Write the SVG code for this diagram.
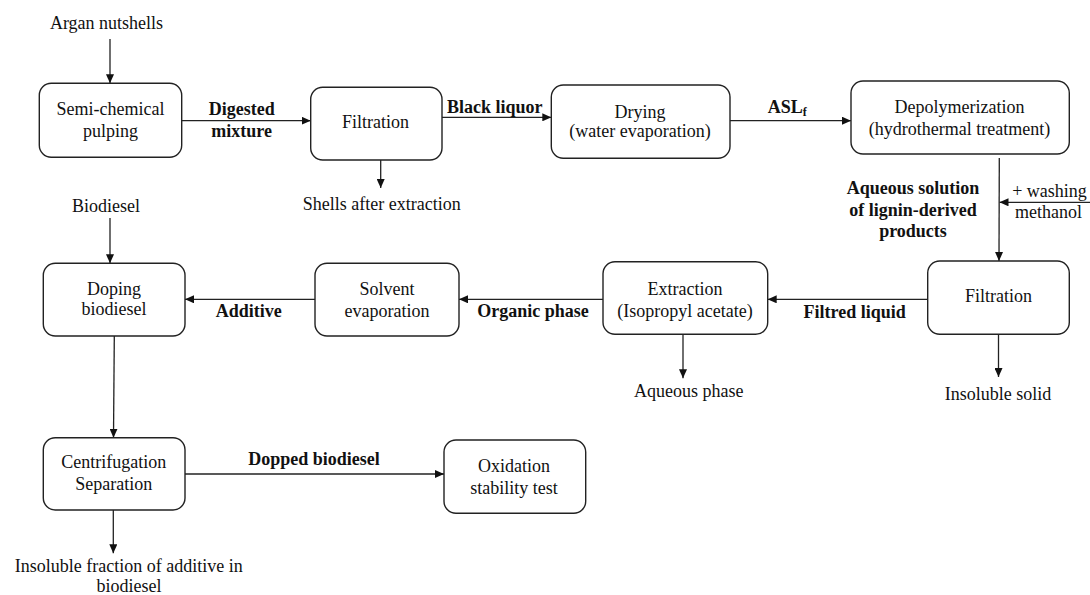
<svg xmlns="http://www.w3.org/2000/svg" width="1090" height="595" viewBox="0 0 1090 595">
<style>
  .box { fill: #ffffff; stroke: #222222; stroke-width: 1.4; }
  .t { font-family: "Liberation Serif", "Times New Roman", serif; font-size: 18px; fill: #111111; text-anchor: middle; }
  .b { font-weight: bold; }
  .c { stroke: #222222; stroke-width: 1.3; fill: none; marker-end: url(#arr); }
</style>
<defs>
  <marker id="arr" markerUnits="userSpaceOnUse" markerWidth="9" markerHeight="8" viewBox="0 0 9 8" refX="9" refY="4" orient="auto">
    <path d="M0,0 L9,4 L0,8 z" fill="#111111"/>
  </marker>
</defs>
<rect width="1090" height="595" fill="#ffffff"/>

<g id="connectors">
  <line class="c" x1="110" y1="39" x2="110" y2="83.3"/>
  <line class="c" x1="181.7" y1="120.7" x2="310.7" y2="120.7"/>
  <line class="c" x1="380.7" y1="160" x2="380.7" y2="188"/>
  <line class="c" x1="442" y1="117.3" x2="551.3" y2="117.3"/>
  <line class="c" x1="730" y1="120.7" x2="851" y2="120.7"/>
  <line class="c" x1="999.3" y1="158" x2="999" y2="261"/>
  <line class="c" x1="1090" y1="202.3" x2="999.5" y2="202.3"/>
  <line class="c" x1="927.7" y1="299.3" x2="767.7" y2="299.3"/>
  <line class="c" x1="683" y1="334.3" x2="683" y2="378.3"/>
  <line class="c" x1="998.5" y1="334.3" x2="998.5" y2="377"/>
  <line class="c" x1="603" y1="299.3" x2="459" y2="299.3"/>
  <line class="c" x1="315" y1="299.3" x2="185" y2="299.3"/>
  <line class="c" x1="110" y1="218" x2="110" y2="263.3"/>
  <line class="c" x1="114.3" y1="336" x2="113.5" y2="437.7"/>
  <line class="c" x1="185" y1="474" x2="444" y2="474"/>
  <line class="c" x1="113.3" y1="510" x2="113.3" y2="553.3"/>
</g>

<g id="argan">
  <text class="t" x="106.5" y="29">Argan nutshells</text>
</g>
<g id="semi-chemical-pulping">
  <rect class="box" x="39.3" y="83.3" width="142.4" height="74" rx="12"/>
  <text class="t" x="110.5" y="115">Semi-chemical</text>
  <text class="t" x="110.5" y="137">pulping</text>
</g>
<g id="label-digested">
  <text class="t b" x="241.7" y="115">Digested</text>
  <text class="t b" x="241.7" y="137">mixture</text>
</g>
<g id="filtration-1">
  <rect class="box" x="310.7" y="87.3" width="131.3" height="72.7" rx="12"/>
  <text class="t" x="375.5" y="128">Filtration</text>
</g>
<g id="shells">
  <text class="t" x="381.7" y="210">Shells after extraction</text>
</g>
<g id="label-black-liquor">
  <text class="t b" x="494.7" y="113">Black liquor</text>
</g>
<g id="drying">
  <rect class="box" x="551.3" y="85" width="178.7" height="73.3" rx="12"/>
  <text class="t" x="640" y="117.5">Drying</text>
  <text class="t" x="640" y="137">(water evaporation)</text>
</g>
<g id="label-aslf">
  <text class="t b" x="767.7" y="113" style="text-anchor:start">ASL<tspan font-size="12" dy="3">f</tspan></text>
</g>
<g id="depolymerization">
  <rect class="box" x="851" y="81" width="218.3" height="73" rx="12"/>
  <text class="t" x="959.5" y="113.3">Depolymerization</text>
  <text class="t" x="959.5" y="135">(hydrothermal treatment)</text>
</g>
<g id="label-aqueous-solution">
  <text class="t b" x="913" y="194">Aqueous solution</text>
  <text class="t b" x="913" y="215.5">of lignin-derived</text>
  <text class="t b" x="913" y="236.5">products</text>
</g>
<g id="methanol">
  <text class="t" x="1049.5" y="196.7">+ washing</text>
  <text class="t" x="1048.5" y="218.3">methanol</text>
</g>
<g id="filtration-2">
  <rect class="box" x="927.7" y="261" width="141.6" height="73.3" rx="12"/>
  <text class="t" x="998.5" y="302">Filtration</text>
</g>
<g id="insoluble-solid">
  <text class="t" x="998" y="400">Insoluble solid</text>
</g>
<g id="label-filtred-liquid">
  <text class="t b" x="854.7" y="318.3">Filtred liquid</text>
</g>
<g id="extraction">
  <rect class="box" x="603" y="261.7" width="164.7" height="72.6" rx="12"/>
  <text class="t" x="685" y="295">Extraction</text>
  <text class="t" x="685" y="316.7">(Isopropyl acetate)</text>
</g>
<g id="aqueous-phase">
  <text class="t" x="688.7" y="396.7">Aqueous phase</text>
</g>
<g id="label-organic-phase">
  <text class="t b" x="533" y="316.7">Organic phase</text>
</g>
<g id="solvent-evaporation">
  <rect class="box" x="315" y="263.3" width="144" height="72.7" rx="12"/>
  <text class="t" x="387" y="295">Solvent</text>
  <text class="t" x="387" y="316.7">evaporation</text>
</g>
<g id="label-additive">
  <text class="t b" x="248.8" y="316.7">Additive</text>
</g>
<g id="biodiesel">
  <text class="t" x="106" y="212">Biodiesel</text>
</g>
<g id="doping-biodiesel">
  <rect class="box" x="43.3" y="263.3" width="141.7" height="72.7" rx="12"/>
  <text class="t" x="114" y="295">Doping</text>
  <text class="t" x="114" y="315">biodiesel</text>
</g>
<g id="centrifugation">
  <rect class="box" x="43.3" y="437.7" width="141.7" height="72.3" rx="12"/>
  <text class="t" x="113.7" y="468.3">Centrifugation</text>
  <text class="t" x="113.7" y="490">Separation</text>
</g>
<g id="label-dopped-biodiesel">
  <text class="t b" x="314" y="465">Dopped biodiesel</text>
</g>
<g id="oxidation">
  <rect class="box" x="444" y="440" width="141.7" height="73.3" rx="12"/>
  <text class="t" x="514" y="471.7">Oxidation</text>
  <text class="t" x="514" y="494">stability test</text>
</g>
<g id="insoluble-fraction">
  <text class="t" x="128.8" y="571.7">Insoluble fraction of additive in</text>
  <text class="t" x="129" y="591.7">biodiesel</text>
</g>
</svg>
